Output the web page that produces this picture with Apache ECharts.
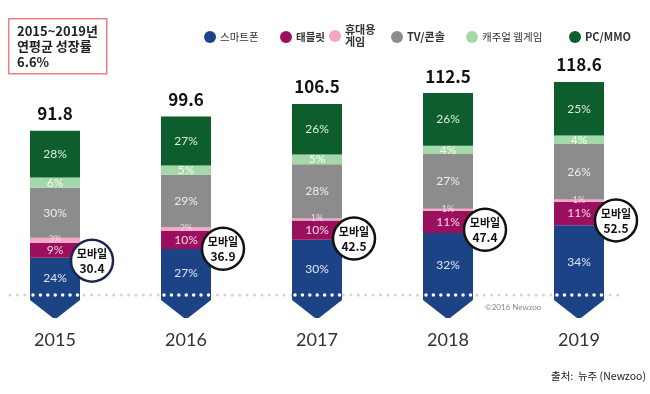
<!DOCTYPE html>
<html><head><meta charset="utf-8">
<script src="https://cdn.jsdelivr.net/npm/echarts@6/dist/echarts.min.js"></script>
<style>html,body{margin:0;padding:0;background:#fff}#c{width:650px;height:394px}</style>
</head><body><div id="c"></div>
<script>
const years = ['2015','2016','2017','2018','2019'];
const totals = [91.8, 99.6, 106.5, 112.5, 118.6];
const mobile = [30.4, 36.9, 42.5, 47.4, 52.5];
const seriesNames = ['스마트폰','태블릿','휴대용\n게임','TV/콘솔','캐주얼 웹게임','PC/MMO'];
const pctSmartphone = [24, 27, 30, 32, 34];
const pctTablet = [9, 10, 10, 11, 11];
const pctHandheld = [3, 2, 1, 1, 1];
const pctConsole = [30, 29, 28, 27, 26];
const pctCasual = [6, 5, 5, 4, 4];
const pctPC = [28, 27, 26, 26, 25];
const pctAll = [pctSmartphone, pctTablet, pctHandheld, pctConsole, pctCasual, pctPC];
const colors = ['#1d4387','#9a0f5e','#f4a6c6','#8c8c8c','#a3d9a8','#0d5e2c'];

const pctSum = years.map((_, i) => pctAll.reduce((s, a) => s + a[i], 0));
const FONT = '"Noto Sans CJK KR", "Noto Sans", sans-serif';

const labelStyles = [
  {color:'#dfe6f3', fontSize:12},
  {color:'#f3d6e6', fontSize:12},
  {color:'#fbd3e3', fontSize:9, offset:[0,-1]},
  {color:'#eeeeee', fontSize:12},
  {color:'#f4fff4', fontSize:12},
  {color:'#dcefe0', fontSize:12}
];

const barSeries = pctAll.map((arr, k) => ({
  name: seriesNames[k],
  type: 'bar',
  stack: 'total',
  barWidth: 50,
  z: 3,
  itemStyle: {color: colors[k]},
  label: Object.assign({
    show: true, position: 'inside', fontFamily: 'Lato, sans-serif',
    formatter: p => arr[p.dataIndex] + '%'
  }, labelStyles[k]),
  data: arr.map((v, i) => totals[i] * v / pctSum[i])
}));

const chevronSeries = {
  type: 'custom', z: 4, silent: true,
  data: years.map((y, i) => [i, 0]),
  renderItem: (params, api) => {
    const p = api.coord([api.value(0), 0]);
    const x = p[0], y = p[1];
    return {type: 'group', children: [
      {type: 'polygon', shape: {points: [[x-25,y-1],[x+25,y-1],[x+25,y+2],[x+2,y+20],[x-2,y+20],[x-25,y+2]]},
       style: {fill: colors[0]}},
      {type: 'line', shape: {x1: x-22, y1: y-3, x2: x+23, y2: y-3},
       style: {stroke: '#ffffff', lineWidth: 3.5, lineCap: 'round', lineDash: [0.01, 7.4]}, z2: 5}
    ]};
  }
};

const dottedSeries = {
  type: 'custom', z: 1, silent: true,
  data: [[0, 0]],
  renderItem: (params, api) => {
    const p = api.coord([0, 0]);
    const cs = params.coordSys;
    return {type: 'line', shape: {x1: cs.x - 45, y1: p[1]-3, x2: cs.x + cs.width + 42, y2: p[1]-3},
      style: {stroke: '#d3d3d3', lineWidth: 3, lineCap: 'round', lineDash: [0.01, 7.4]}};
  }
};

const totalSeries = {
  type: 'custom', z: 6, silent: true,
  data: totals.map((t, i) => [i, t]),
  renderItem: (params, api) => {
    const p = api.coord([api.value(0), api.value(1)]);
    return {type: 'text', x: p[0], y: p[1] - 17,
      style: {text: String(api.value(1)), fill: '#111', font: 'bold 17px ' + FONT, align: 'center', verticalAlign: 'middle'}};
  }
};

const circleSeries = {
  type: 'custom', z: 7, silent: true,
  data: mobile.map((m, i) => [i, m]),
  renderItem: (params, api) => {
    const p = api.coord([api.value(0), api.value(1)]);
    const cx = p[0] + 37, cy = p[1] + 18;
    return {type: 'group', children: [
      {type: 'circle', shape: {cx: cx, cy: cy, r: 21},
       style: {fill: '#ffffff', stroke: params.dataIndex === 0 ? '#1a2650' : '#111111', lineWidth: 2.5}},
      {type: 'text', x: cx, y: cy - 7, style: {text: '모바일', fill: '#111', font: 'bold 11px ' + FONT, align: 'center', verticalAlign: 'middle'}},
      {type: 'text', x: cx, y: cy + 8, style: {text: String(api.value(1)), fill: '#111', font: 'bold 12px ' + FONT, align: 'center', verticalAlign: 'middle'}}
    ]};
  }
};

const legendLefts = [199, 275, 324, 386, 461, 564];
const legendBold = ['normal','bold','bold','bold','normal','bold'];
const legendSize = [10.5, 10.5, 11, 11, 10.5, 11];
const legends = seriesNames.map((n, k) => ({
  data: [n], left: legendLefts[k], top: k === 2 ? 19 : 26,
  icon: 'circle', itemWidth: 12, itemHeight: 12, itemGap: 0,
  selectedMode: false,
  textStyle: {fontSize: legendSize[k], color: '#333', fontWeight: legendBold[k], fontFamily: FONT, padding: [0,0,0,-1], lineHeight: 12}
}));

const chart = echarts.init(document.getElementById('c'), null, {renderer: 'canvas'});
chart.setOption({
  animation: false,
  color: colors,
  legend: legends,
  grid: {left: 55, right: 71, top: 6.6, bottom: 96, containLabel: false},
  xAxis: {type: 'category', data: years, boundaryGap: false,
    axisLine: {show: false}, axisTick: {show: false}, splitLine: {show: false},
    axisLabel: {margin: 33, fontSize: 18, color: '#333', fontFamily: 'Lato, sans-serif'}},
  yAxis: {type: 'value', min: 0, max: 160, show: false, splitLine: {show: false}},
  graphic: [
    {type: 'rect', left: 8, top: 18, shape: {width: 98, height: 55},
     style: {fill: '#fff', stroke: '#f08080', lineWidth: 1.5}},
    {type: 'text', left: 17, top: 23,
     style: {text: '2015~2019년\n연평균 성장률\n6.6%', font: 'bold 13px ' + FONT, fill: '#222', lineHeight: 15.5}},
    {type: 'text', left: 485, top: 303, style: {text: '©2016 Newzoo', font: '8px Lato, sans-serif', fill: '#888'}},
    {type: 'text', right: 4, top: 371, style: {text: '출처:  뉴주 (Newzoo)', font: '10.5px ' + FONT, fill: '#222'}}
  ],
  series: [dottedSeries].concat(barSeries, [chevronSeries, totalSeries, circleSeries])
});
</script></body></html>
